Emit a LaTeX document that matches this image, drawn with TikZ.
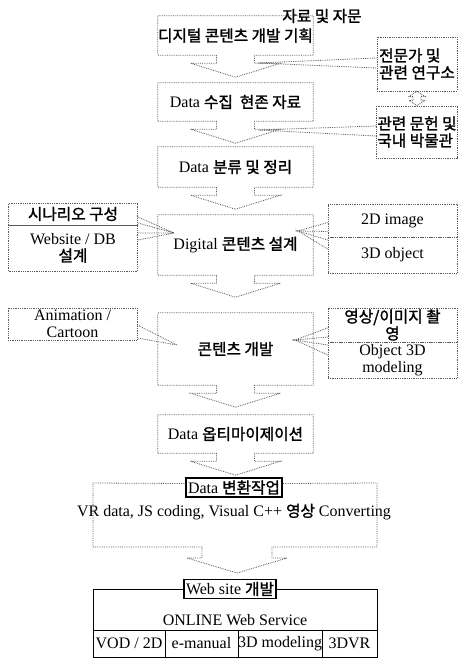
\documentclass[tikz,border=0pt]{standalone}
\usepackage{fontspec}
\setmainfont{Liberation Serif}
\newfontfamily\kr[Scale=0.98, FakeBold=1.6]{Noto Sans CJK KR}
\usetikzlibrary{positioning}

\begin{document}
\begin{tikzpicture}[x=1pt, y=-1pt,
  every node/.style = {font=\fontsize{16}{17}\selectfont, align=center},
  dotline/.style = {draw=black!65, densely dotted, line width=0.8pt},
  mainbox/.style = {minimum width=155pt, inner sep=0pt},
  sidebox/.style = {dotline, minimum width=129pt, inner sep=1pt},
  solidbox/.style = {draw, line width=1.3pt, inner sep=2pt, minimum height=19pt},
  cell/.style = {draw, line width=0.6pt, minimum height=27pt, inner sep=0pt}]
  \useasboundingbox (0,0) rectangle (462,658);

  % main column
  \node[mainbox, minimum height=39pt] (plan) at (235.5,35.5) {\kr 디지털 콘텐츠 개발 기획};
  \node[mainbox, minimum height=38pt] (collect) at (235.5,102) {Data {\kr 수집\ \ 현존 자료}};
  \node[mainbox, minimum height=40pt] (sort) at (235.5,167) {Data {\kr 분류 및 정리}};
  \node[mainbox, minimum height=60pt] (design) at (235.5,245) {Digital {\kr 콘텐츠 설계}};
  \node[mainbox, minimum height=72pt] (develop) at (235.5,349) {\kr 콘텐츠 개발};
  \node[mainbox, minimum height=38pt] (optim) at (235.5,434) {Data {\kr 옵티마이제이션}};
  \node (advice) at (322,16) {\kr 자료 및 자문};

  \foreach \b in {plan, collect, sort, design, develop, optim}
    \draw[dotline] ([xshift=-19pt]\b.south) -- (\b.south west) -- (\b.north west)
      -- (\b.north east) -- (\b.south east) -- ([xshift=19pt]\b.south)
      -- ++(0,8) -- ++(26,0) -- ([yshift=-22pt]\b.south) -- ++(-45,-14)
      -- ++(26,0) -- cycle;

  % side boxes
  \node[sidebox, minimum width=80pt, minimum height=54pt, align=left] (expert) at (417,64)
    {\kr 전문가 및\\\kr 관련 연구소};
  \node[sidebox, minimum width=80pt, minimum height=52pt, align=left] (museum) at (417,132)
    {\kr 관련 문헌 및\\\kr 국내 박물관};
  \node[sidebox, minimum height=22pt] (scenario) at (73,214) {\kr 시나리오 구성};
  \node[sidebox, minimum height=46pt] (webdb) at (73,248) {Website / DB\\{\kr 설계}};
  \node[sidebox, minimum height=33pt] (image) at (392.5,220.5) {2D image};
  \node[sidebox, minimum height=36pt] (object) at (392.5,255) {3D object};
  \node[sidebox, minimum height=32pt] (anim) at (72.5,324) {Animation /\\Cartoon};
  \node[sidebox, minimum height=34pt] (shoot) at (392.5,325) {\kr 영상/이미지 촬\\\kr 영};
  \node[sidebox, minimum height=36pt] (model) at (392.5,360) {Object 3D\\modeling};

  % callout pointers
  \coordinate (p1) at (258,63);
  \coordinate (p2) at (258,130);
  \coordinate (p3) at (174,233);
  \coordinate (p4) at (298,231);
  \coordinate (p5) at (177,345);
  \coordinate (p6) at (295,340);
  \draw[dotline] ([yshift=6pt]expert.west) -- (p1) -- ([yshift=-4pt]expert.west);
  \draw[dotline] ([yshift=6pt]museum.west) -- (p2) -- ([yshift=-4pt]museum.west);
  \draw[dotline] ([yshift=-3pt]scenario.east) -- (p3) -- ([yshift=-9pt]scenario.east);
  \draw[dotline] ([yshift=15pt]webdb.east) -- (p3) -- ([yshift=8pt]webdb.east);
  \draw[dotline] ([yshift=-2pt]image.west) -- (p4) -- ([yshift=-11pt]image.west);
  \draw[dotline] ([yshift=15pt]object.west) -- (p4) -- ([yshift=6pt]object.west);
  \draw[dotline] ([yshift=-1pt]anim.east) -- (p5) -- ([yshift=-14pt]anim.east);
  \draw[dotline] ([yshift=-3pt]shoot.west) -- (p6) -- ([yshift=-12pt]shoot.west);
  \draw[dotline] ([yshift=15pt]model.west) -- (p6) -- ([yshift=5pt]model.west);
  \draw[dotline] (expert.south) -- ++(8,5) -- ++(-4,0) -- ++(0,4) -- ++(4,0)
    -- (museum.north) -- ++(-8,-5) -- ++(4,0) -- ++(0,-4) -- ++(-4,0) -- cycle;

  % conversion
  \node[solidbox] (convert) at (234,487.5) {Data {\kr 변환작업}};
  \node (convtext) at (234,512) {VR data, JS coding, Visual C++ {\kr 영상} Converting};
  \draw[dotline] ([yshift=4pt]convert.west) -- (93,483) -- (93,547) -- (202,547)
    -- (202,558) -- (187,558) -- (237,573) -- (287,558) -- (272,558) -- (272,547)
    -- (377,547) -- (377,483) -- ([yshift=4pt]convert.east);

  % web site
  \node[solidbox] (web) at (230,589) {Web site {\kr 개발}};
  \draw[line width=1pt] (web.west) -- (93,589) -- (93,657) -- (377,657) -- (377,589) -- (web.east);
  \node (online) at (235,620) {ONLINE Web Service};
  \node[cell, minimum width=72pt] (vod) at (129,643.5) {VOD / 2D};
  \node[cell, minimum width=73pt] (manual) at (201.5,643.5) {e-manual};
  \node[cell, minimum width=84pt] (modeling) at (280,643.5) {3D modeling};
  \node[cell, minimum width=55pt] (vr) at (349.5,643.5) {3DVR};
\end{tikzpicture}
\end{document}
